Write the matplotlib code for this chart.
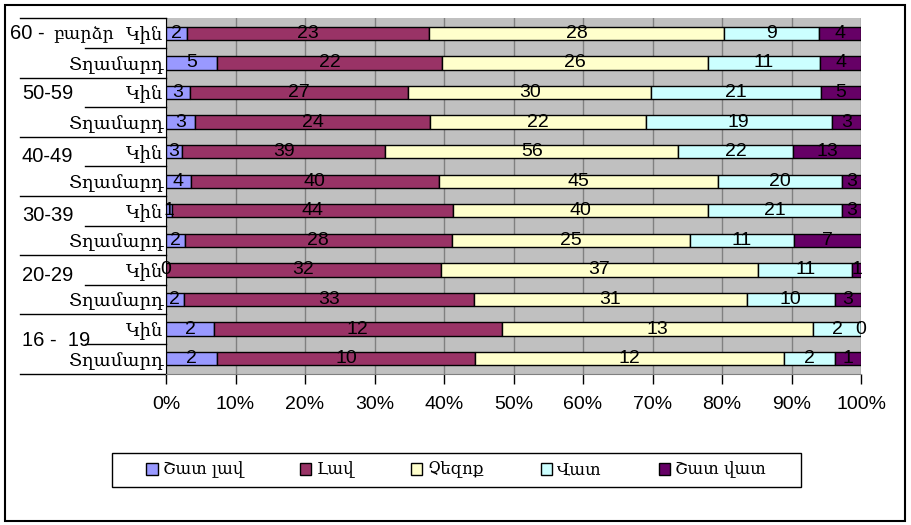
import numpy as np
import matplotlib.pyplot as plt
import matplotlib.transforms as mtransforms
from matplotlib.patches import Patch, Rectangle

# Տվյալներ (վերևից ներքև)
age_groups = ["60 - բարձր", "50-59", "40-49", "30-39", "20-29", "16 -  19"]
sexes = ["Կին", "Տղամարդ"]
row_labels = [s for _ in age_groups for s in sexes]

series_names = ["Շատ լավ", "Լավ", "Չեզոք", "Վատ", "Շատ վատ"]
shat_lav = [2, 5, 3, 3, 3, 4, 1, 2, 0, 2, 2, 2]
lav = [23, 22, 27, 24, 39, 40, 44, 28, 32, 33, 12, 10]
chezok = [28, 26, 30, 22, 56, 45, 40, 25, 37, 31, 13, 12]
vat = [9, 11, 21, 19, 22, 20, 21, 11, 11, 10, 2, 2]
shat_vat = [4, 4, 5, 3, 13, 3, 3, 7, 1, 3, 0, 1]

colors = ["#9999FF", "#993366", "#FFFFCC", "#CCFFFF", "#660066"]

arm_font = ["DejaVu Serif", "DejaVu Sans"]
num_font = ["Liberation Sans", "DejaVu Sans"]

data = np.array([shat_lav, lav, chezok, vat, shat_vat], dtype=float)
totals = data.sum(axis=0)
pct = data / totals * 100

fig = plt.figure(figsize=(9.11, 5.25), dpi=100)
W, H = 911, 525
ax = fig.add_axes([166 / W, 1 - 373.5 / H, 695 / W, 355 / H])
ax.set_facecolor("#C0C0C0")

y = np.arange(len(row_labels))
left = np.zeros(len(row_labels))
for k in range(len(series_names)):
    ax.barh(y, pct[k], left=left, height=0.45, color=colors[k],
            edgecolor="black", linewidth=1, zorder=3)
    for i in range(len(row_labels)):
        ax.text(left[i] + pct[k][i] / 2, y[i], str(int(data[k][i])),
                ha="center", va="center", fontsize=14, family=num_font,
                zorder=4)
    left += pct[k]

ax.set_xlim(0, 100)
ax.set_ylim(len(row_labels) - 0.5, -0.5)
ax.set_xticks(np.arange(0, 101, 10))
ax.set_xticklabels([f"{v}%" for v in range(0, 101, 10)], family=num_font,
                   fontsize=14)
ax.xaxis.grid(True, color="#808080", linewidth=1, zorder=0)
ax.set_axisbelow(True)
ax.tick_params(axis="x", length=7, width=1, color="black", pad=9)

ax.set_yticks(y)
ax.set_yticklabels(row_labels, family=arm_font, fontsize=13)
ax.tick_params(axis="y", length=0, pad=2)

for s in ["top", "right"]:
    ax.spines[s].set_visible(False)
ax.spines["bottom"].set_color("#808080")
ax.spines["left"].set_color("black")

# Բաժանարար գծեր ձախ կողմում
trans = mtransforms.blended_transform_factory(fig.transFigure, ax.transData)
for b in np.arange(-0.5, len(row_labels), 2):
    ax.plot([20 / W, 166 / W], [b, b], color="black", linewidth=1,
            transform=trans, clip_on=False)
for b in np.arange(0.5, len(row_labels), 2):
    ax.plot([85 / W, 166 / W], [b, b], color="black", linewidth=1,
            transform=trans, clip_on=False)

age_y = [0.0, 2.03, 4.16, 6.15, 8.18, 10.4]
age_x = [10, 22, 22, 22, 22, 22]
for lab, yy, xx in zip(age_groups, age_y, age_x):
    if "բարձր" in lab:
        num_part, arm_part = lab.split("բարձր")[0], "բարձր"
        ax.text(xx / W, yy, num_part.strip(), transform=trans, ha="left",
                va="center", fontsize=14.5, family=num_font)
        ax.text(53 / W, yy, arm_part, transform=trans, ha="left",
                va="center", fontsize=12.5, family=arm_font)
    else:
        ax.text(xx / W, yy, lab, transform=trans, ha="left", va="center",
                fontsize=14.5, family=num_font)

# Լեգենդ
handles = [Patch(facecolor=c, edgecolor="black", linewidth=1) for c in colors]
leg = fig.legend(handles, series_names, loc="center", ncol=5,
                 bbox_to_anchor=(456 / W, 1 - 470 / H),
                 prop={"family": arm_font, "size": 12},
                 frameon=False,
                 handlelength=0.7, handleheight=0.7, handletextpad=0.3,
                 columnspacing=3.4, borderpad=0.3)
fig.patches.append(Rectangle((112 / W, 1 - 487 / H), 689 / W, 34 / H,
                             transform=fig.transFigure, fill=False,
                             edgecolor="black", linewidth=1))

# Արտաքին շրջանակ
fig.patches.append(Rectangle((5 / W, 1 - 521 / H), 900 / W, 516 / H,
                             transform=fig.transFigure, fill=False,
                             edgecolor="black", linewidth=1.5))

fig.savefig("out.png", dpi=100)
